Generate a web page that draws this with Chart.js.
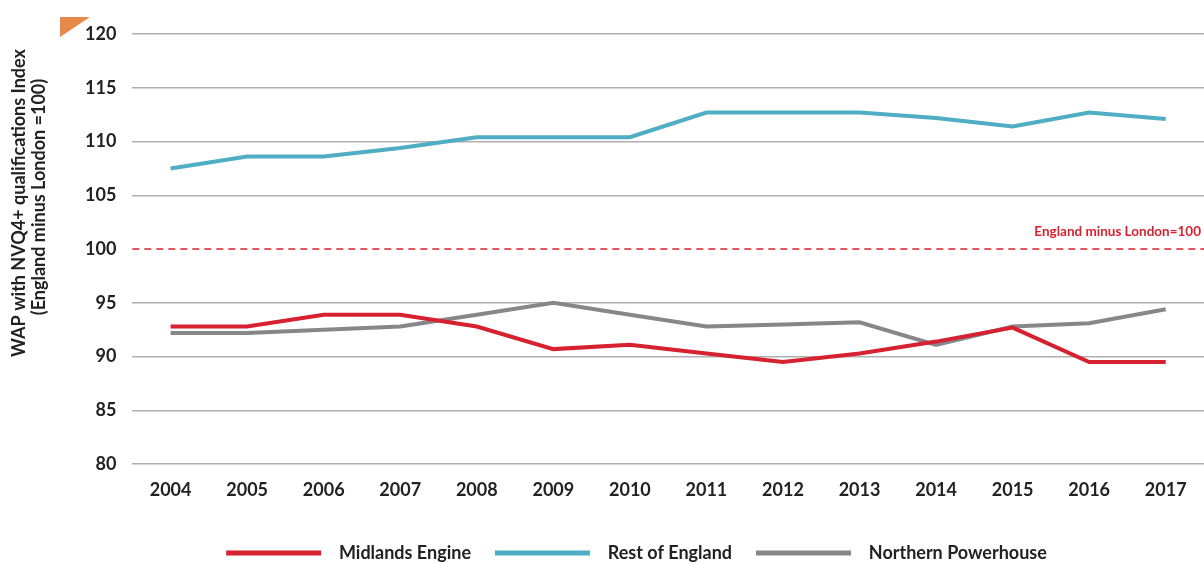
<!DOCTYPE html>
<html>
<head>
<meta charset="utf-8">
<script src="https://cdn.jsdelivr.net/npm/chart.js@4"></script>
<style>
  html, body { margin: 0; padding: 0; background: #fff; }
  #wrap { width: 1204px; height: 563px; }
</style>
</head>
<body>
<div id="wrap"><canvas id="graphic-wap"></canvas></div>
<script>
const years = ['2004', '2005', '2006', '2007', '2008', '2009', '2010', '2011', '2012', '2013', '2014', '2015', '2016', '2017'];
const midlandsEngine = [92.8, 92.8, 93.9, 93.9, 92.8, 90.7, 91.1, 90.3, 89.5, 90.3, 91.4, 92.7, 89.5, 89.5];
const restOfEngland = [107.5, 108.6, 108.6, 109.4, 110.4, 110.4, 110.4, 112.7, 112.7, 112.7, 112.2, 111.4, 112.7, 112.1];
const northernPowerhouse = [92.2, 92.2, 92.5, 92.8, 93.9, 95.0, 93.9, 92.8, 93.0, 93.2, 91.1, 92.8, 93.1, 94.4];
const baseline = 100;
const baselineLabel = 'England minus London=100';
const yTitle = ['WAP with NVQ4+ qualifications Index', '(England minus London =100)'];

const fontFamily = 'Lato, "Open Sans", sans-serif';

// dashed reference line, y title and orange corner mark
const extras = {
    id: 'extras',
    beforeDatasetsDraw(chart) {
        const ctx = chart.ctx;
        const area = chart.chartArea;
        const y = chart.scales.y.getPixelForValue(baseline);
        ctx.save();
        ctx.strokeStyle = '#d62130';
        ctx.lineWidth = 1.5;
        ctx.setLineDash([7, 5]);
        ctx.beginPath();
        ctx.moveTo(area.left, y);
        ctx.lineTo(chart.width, y);
        ctx.stroke();
        ctx.setLineDash([]);
        ctx.fillStyle = '#d62130';
        ctx.font = 'bold 13.5px ' + fontFamily;
        ctx.textAlign = 'right';
        ctx.textBaseline = 'middle';
        ctx.fillText(baselineLabel, chart.width - 3, y - 17);
        ctx.restore();
    },
    afterDraw(chart) {
        const ctx = chart.ctx;
        ctx.save();
        ctx.fillStyle = '#e8894a';
        ctx.beginPath();
        ctx.moveTo(60, 17);
        ctx.lineTo(90, 17);
        ctx.lineTo(60, 37);
        ctx.closePath();
        ctx.fill();

        ctx.fillStyle = '#222';
        ctx.font = 'bold 18px ' + fontFamily;
        ctx.textAlign = 'center';
        ctx.textBaseline = 'middle';
        ctx.translate(0, 203);
        ctx.rotate(-Math.PI / 2);
        ctx.fillText(yTitle[0], 0, 19);
        ctx.fillText(yTitle[1], 6, 39);
        ctx.restore();
    }
};

const lineSet = (label, data, color) => ({
    label: label,
    data: data,
    borderColor: color,
    backgroundColor: color,
    borderWidth: 4,
    pointRadius: 0,
    tension: 0,
    fill: false
});

new Chart(document.getElementById('graphic-wap'), {
    type: 'line',
    data: {
        labels: years,
        datasets: [
            lineSet('Midlands Engine', midlandsEngine, '#d62130'),
            lineSet('Rest of England', restOfEngland, '#4fadc4'),
            lineSet('Northern Powerhouse', northernPowerhouse, '#87878a')
        ]
    },
    options: {
        responsive: true,
        maintainAspectRatio: false,
        animation: false,
        layout: { padding: { top: 34, right: 0, left: 69, bottom: -9 } },
        plugins: {
            legend: {
                position: 'bottom',
                labels: {
                    boxWidth: 95,
                    boxHeight: 5,
                    padding: 24,
                    color: '#222',
                    font: { family: fontFamily, size: 18, weight: 'bold' },
                    generateLabels: chart => Chart.defaults.plugins.legend.labels.generateLabels(chart).map(item => {
                        item.text = '  ' + item.text;
                        item.lineWidth = 0;
                        return item;
                    })
                }
            },
            tooltip: { enabled: false }
        },
        scales: {
            x: {
                offset: true,
                grid: { display: false, drawTicks: false },
                border: { display: false },
                ticks: {
                    padding: 15,
                    color: '#222',
                    font: { family: fontFamily, size: 18, weight: 'bold' }
                },
                title: {
                    display: true,
                    text: ' ',
                    padding: { top: 0, bottom: 3 },
                    font: { size: 1 }
                }
            },
            y: {
                min: 80,
                max: 120,
                grid: {
                    drawTicks: false,
                    lineWidth: 1.5,
                    color: ctx => ctx.tick && ctx.tick.value === baseline ? 'rgba(0,0,0,0)' : '#b0b0b0'
                },
                border: { display: false },
                ticks: {
                    stepSize: 5,
                    padding: 16,
                    color: '#222',
                    font: { family: fontFamily, size: 18, weight: 'bold' }
                }
            }
        }
    },
    plugins: [extras]
});
</script>
</body>
</html>
